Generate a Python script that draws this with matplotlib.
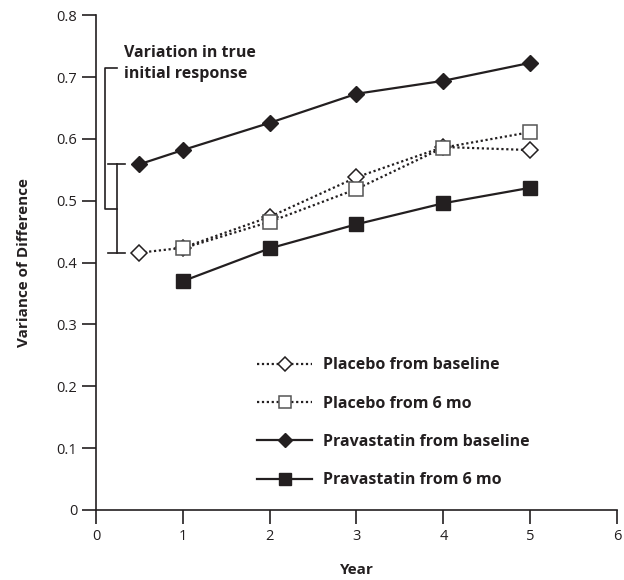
import matplotlib
matplotlib.use("Agg")
import matplotlib.pyplot as plt

# -----------------------------
# Data
# -----------------------------
years_base = [0.5, 1, 2, 3, 4, 5]
years_6mo = [1, 2, 3, 4, 5]

placebo_base = [0.416, 0.424, 0.474, 0.538, 0.587, 0.582]
placebo_6mo = [0.423, 0.466, 0.519, 0.586, 0.611]
prava_base = [0.559, 0.582, 0.626, 0.673, 0.694, 0.723]
prava_6mo = [0.370, 0.423, 0.462, 0.496, 0.521]

x_ticks = [0, 1, 2, 3, 4, 5, 6]
y_ticks = [0, 0.1, 0.2, 0.3, 0.4, 0.5, 0.6, 0.7, 0.8]
y_ticklabels = ["0", "0.1", "0.2", "0.3", "0.4", "0.5", "0.6", "0.7", "0.8"]

ink = "#231f20"
plt.rcParams["font.family"] = ["Open Sans", "DejaVu Sans"]

fig = plt.figure(figsize=(6.24, 5.8), dpi=100)
ax = fig.add_axes([0.1538, 0.1207, 0.835, 0.853])

# -----------------------------
# Series
# -----------------------------
ax.plot(years_base, placebo_base, linestyle=(0, (1, 1.2)), color=ink, lw=1.6,
        marker="D", markersize=8, markerfacecolor="white", markeredgecolor=ink,
        markeredgewidth=1.1, label="Placebo from baseline", clip_on=False)
ax.plot(years_6mo, placebo_6mo, linestyle=(0, (1, 1.2)), color=ink, lw=1.6,
        marker="s", markersize=10, markerfacecolor="white", markeredgecolor="#555555",
        markeredgewidth=1.1, label="Placebo from 6 mo", clip_on=False)
ax.plot(years_base, prava_base, linestyle="-", color=ink, lw=1.6,
        marker="D", markersize=8, markerfacecolor=ink, markeredgecolor=ink,
        label="Pravastatin from baseline", clip_on=False)
ax.plot(years_6mo, prava_6mo, linestyle="-", color=ink, lw=1.6,
        marker="s", markersize=10, markerfacecolor=ink, markeredgecolor=ink,
        label="Pravastatin from 6 mo", clip_on=False)

# -----------------------------
# Bracket: variation in true initial response
# -----------------------------
lo, hi = placebo_base[0], prava_base[0]
mid = (lo + hi) / 2
bx = 0.24
ax.plot([bx, bx], [lo, hi], color=ink, lw=1.2)
ax.plot([bx - 0.1, bx + 0.1], [lo, lo], color=ink, lw=1.2)
ax.plot([bx - 0.1, bx + 0.1], [hi, hi], color=ink, lw=1.2)
ax.plot([bx, 0.1, 0.1, 0.24], [mid, mid, 0.715, 0.715], color=ink, lw=1.2)
ax.text(0.32, 0.722, "Variation in true\ninitial response", fontsize=11.5,
        fontweight="bold", color=ink, va="center", ha="left", linespacing=1.35)

# -----------------------------
# Axes styling
# -----------------------------
ax.set_xlim(0, 6)
ax.set_ylim(0, 0.8)
ax.set_xticks(x_ticks)
ax.set_yticks(y_ticks)
ax.set_yticklabels(y_ticklabels)
for s in ["top", "right"]:
    ax.spines[s].set_visible(False)
for s in ["left", "bottom"]:
    ax.spines[s].set_color(ink)
    ax.spines[s].set_linewidth(1.2)
ax.tick_params(direction="out", length=10, width=1.2, color=ink,
               labelcolor=ink, labelsize=10.5)
ax.set_xlabel("Year", fontsize=11, fontweight="bold", color=ink, labelpad=14)
ax.set_ylabel("Variance of Difference", fontsize=11, fontweight="bold",
              color=ink, labelpad=18)

leg = ax.legend(loc="lower left", bbox_to_anchor=(0.309, 0.044), frameon=False,
                fontsize=11.5, handlelength=3.45, labelspacing=1.4,
                handletextpad=0.7, borderaxespad=0, borderpad=0,
                markerscale=0.85)
for t in leg.get_texts():
    t.set_fontweight("bold")
    t.set_color(ink)

fig.savefig("out.png", dpi=100)
